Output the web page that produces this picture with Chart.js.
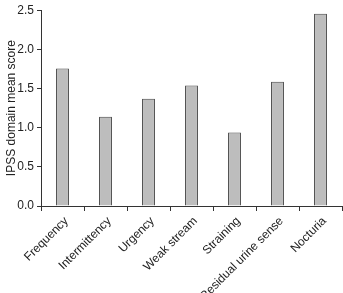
<!DOCTYPE html>
<html><head><meta charset="utf-8">
<script src="https://cdn.jsdelivr.net/npm/chart.js@4/dist/chart.umd.min.js"></script>
<style>html,body{margin:0;padding:0;background:#fff}#w{width:343px;height:293px}</style>
</head><body><div id="w"><canvas id="c"></canvas></div>
<script>
const categories = ["Frequency","Intermittency","Urgency","Weak stream","Straining","Residual urine sense","Nocturia"];
const meanScores = [1.755, 1.14, 1.37, 1.54, 0.94, 1.585, 2.455];
const yTicks = [0, 0.5, 1.0, 1.5, 2.0, 2.5];
const yTitle = "IPSS domain mean score";

const font = {family: "'Liberation Sans', Arial, sans-serif", size: 12};
new Chart(document.getElementById('c'), {
  type: 'bar',
  data: {labels: categories, datasets: [{data: meanScores, backgroundColor: '#bdbdbd', borderColor: '#444', borderWidth: 1, barPercentage: 0.3, categoryPercentage: 1}]},
  options: {
    responsive: true, maintainAspectRatio: false, animation: false,
    layout: {padding: {left: 4, right: 1, top: 9, bottom: 0}},
    plugins: {legend: {display: false}, tooltip: {enabled: false}},
    scales: {
      x: {
        grid: {display: true, drawOnChartArea: false, drawTicks: true, tickLength: 5, color: '#333', offset: true},
        border: {display: true, color: '#333', width: 1},
        ticks: {font, color: '#222', minRotation: 45, maxRotation: 45, autoSkip: false, padding: 3, labelOffset: 4},
        afterFit(s) { s.height = 87; }
      },
      y: {
        min: 0, max: 2.5,
        afterBuildTicks(s) { s.ticks = yTicks.map(v => ({value: v})); },
        grid: {display: true, drawOnChartArea: false, drawTicks: true, tickLength: 4, color: '#333'},
        border: {display: true, color: '#333', width: 1},
        ticks: {font, color: '#222', padding: 3, callback: v => Number(v).toFixed(1)},
        title: {display: true, text: yTitle, font, color: '#222', padding: {top: 0, bottom: 0}},
        afterFit(s) { s.width = 37; }
      }
    }
  }
});
</script></body></html>
